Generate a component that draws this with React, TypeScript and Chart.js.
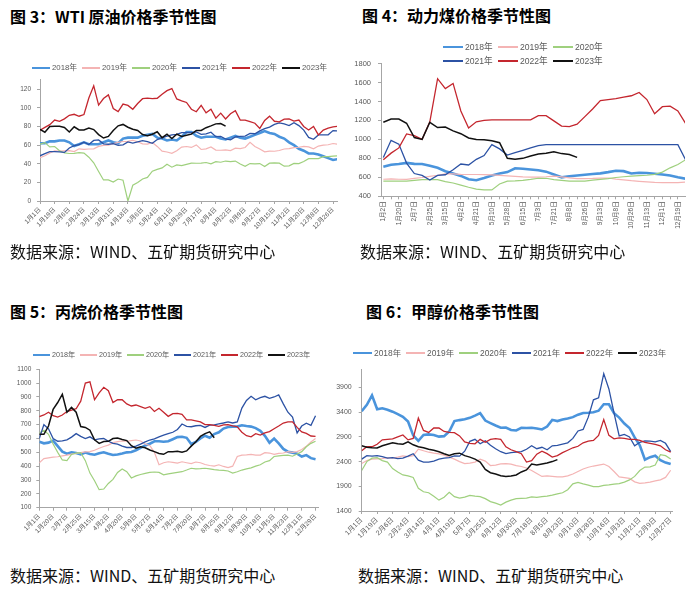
import React, { useEffect, useRef } from 'react';
import { Chart, registerables } from 'chart.js';

Chart.register(...registerables);

const tickFamily = "'Liberation Sans', 'Noto Sans CJK SC', sans-serif";
const cjkFamily = "'Noto Sans CJK SC', 'Liberation Sans', sans-serif";
const axisColor = '#a6a6a6';
const labelColor = '#595959';

// ---- shared series ----
const seriesNames = ['2018年', '2019年', '2020年', '2021年', '2022年', '2023年'];
const seriesColors = ['#4a94dc', '#f4b4b4', '#9fd07e', '#2c52a4', '#c4262e', '#111111'];
const seriesWidths = [2.6, 1.2, 1.2, 1.3, 1.3, 1.5];

// ---- 图3 WTI ----
const wtiXLabels = ['1月1日', '1月19日', '2月6日', '2月24日', '3月13日', '3月31日', '4月18日', '5月6日', '5月24日', '6月11日', '6月29日', '7月17日', '8月4日', '8月22日', '9月9日', '9月27日', '10月15日', '11月2日', '11月20日', '12月8日', '12月26日'];
const wtiYTicks = [0, 20, 40, 60, 80, 100, 120];
const wtiStep = 1 / 3;
const wti2018 = [62, 62, 64, 64, 65, 65, 63, 59, 61, 63, 61, 61, 61, 63, 65, 63, 62, 67, 68, 68, 68, 70, 71, 72, 68, 67, 65, 66, 65, 69, 74, 74, 70, 68, 69, 69, 69, 67, 66, 68, 70, 68, 67, 69, 71, 73, 75, 73, 72, 69, 67, 63, 60, 56, 54, 51, 51, 50, 48, 46, 44, 45];
const wti2019 = [46.5, 48.5, 51.6, 53.8, 53.7, 53.8, 54, 53, 56, 55.5, 55.8, 56, 58.6, 59.8, 59.9, 61.6, 63, 63.9, 64, 65.2, 63.6, 61.4, 61, 62.8, 58.6, 53.5, 52.6, 51.1, 53.9, 57.9, 58.5, 57.5, 60.2, 55.3, 56, 58, 54.7, 54.5, 54.9, 54.2, 56.7, 56.3, 57.4, 62.9, 58.6, 55.9, 52.8, 53.6, 53.4, 54.2, 55.8, 56.2, 57.2, 57.7, 58.6, 58.1, 56, 59, 60, 60.4, 61.7, 61];
const wti2020 = [61, 62.7, 58, 58.5, 54, 51.6, 51, 51.2, 52, 51.4, 47, 41, 31.7, 22.6, 22.6, 20.3, 23.6, 22.4, 0, 16.9, 19.8, 23.6, 25.3, 32, 34, 35.5, 39.5, 36.3, 38.8, 38, 39.3, 40.6, 40.5, 40.6, 41.3, 39.9, 42.2, 41.6, 42.9, 42.3, 42.9, 39.8, 37.3, 40.2, 39.8, 40.2, 37, 40.6, 40.9, 40.6, 37.4, 37.7, 40.3, 40.1, 42.4, 45.5, 45.6, 45.5, 47.6, 47.7, 48.2, 48.5];
const wti2021 = [48.5, 50.8, 53, 52.9, 52.8, 52.2, 56.9, 59.5, 60.5, 63.2, 60.6, 65, 65.6, 61.4, 60.9, 61.5, 59.8, 60.2, 63.4, 62.1, 63.6, 64.9, 63.8, 62, 66, 67.7, 69.6, 70.9, 71.6, 73.3, 73.5, 73.4, 74.1, 71.6, 72, 73.9, 69.1, 69.3, 66.6, 65.6, 68.7, 69.3, 69.7, 72.6, 72.2, 75.3, 77.6, 79.4, 82.3, 83.8, 82.8, 80.9, 84.1, 80.9, 76.1, 68.2, 66.3, 70.9, 70.9, 71.1, 75.6, 75.2];
const wti2022 = [76, 79, 82, 86.9, 85.6, 88.2, 92, 93.1, 91, 92.8, 110.6, 123.7, 103, 110, 113.9, 99.3, 96, 104, 102.6, 98.5, 104.7, 109.8, 110.5, 109.9, 110.3, 114.7, 118.5, 120.7, 109.6, 107.6, 105.8, 98.5, 95.8, 102.6, 94.7, 98.6, 89, 94.3, 88.1, 93.7, 97, 86.9, 86.8, 85.1, 83.5, 78, 86.5, 91.1, 85.6, 85, 87.9, 88.2, 85.8, 86.9, 80, 76.3, 80, 71, 76.1, 78.3, 79.5, 80.3];
const wti2023 = [76.9, 73.8, 79.9, 80.3, 80.2, 79, 74.1, 79.7, 76.3, 76.3, 78.2, 76.7, 71.3, 67.6, 69.3, 75.7, 80.7, 82.2, 79.2, 77.1, 75.7, 71.3, 70, 71.7, 74.3, 68, 71.7, 67.1, 71.8, 69.2, 70.6, 71.8, 75.8, 75.8, 78.7, 80.6, 82.8, 83.2, 80.4];

// ---- 图4 动力煤 ----
const coalXLabels = ['1月2日', '1月20日', '2月7日', '2月25日', '3月15日', '4月2日', '4月21日', '5月10日', '5月28日', '6月15日', '7月3日', '7月21日', '8月8日', '8月26日', '9月13日', '10月8日', '10月26日', '11月13日', '12月1日', '12月19日'];
const coalYTicks = [400, 600, 800, 1000, 1200, 1400, 1600, 1800];
const coalStep = 0.5;
const coal2018 = [712, 732, 740, 752, 742, 740, 722, 700, 665, 640, 615, 580, 570, 592, 620, 640, 655, 695, 690, 682, 675, 660, 630, 600, 612, 620, 627, 635, 642, 655, 670, 665, 640, 648, 645, 637, 630, 620, 600, 585];
const coal2019 = [580, 584, 580, 579, 588, 598, 610, 622, 636, 636, 632, 630, 630, 628, 626, 620, 615, 610, 604, 603, 603, 606, 612, 605, 595, 587, 586, 588, 592, 593, 582, 574, 565, 558, 552, 547, 545, 545, 545, 550];
const coal2020 = [559, 559, 559, 559, 567, 575, 577, 575, 555, 540, 518, 495, 476, 467, 467, 530, 559, 562, 568, 578, 590, 590, 576, 568, 561, 559, 559, 570, 579, 586, 598, 606, 613, 617, 622, 632, 655, 700, 735, 785];
const coal2021 = [808, 990, 950, 750, 640, 620, 572, 620, 627, 680, 740, 730, 790, 830, 945, 900, 835, 860, 885, 910, 935, 945, 945, 945, 945, 945, 945, 945, 945, 945, 945, 945, 945, 945, 945, 945, 945, 945, 945, 785];
const coal2022 = [785, 855, 910, 1058, 1040, 1000, 1185, 1640, 1535, 1590, 1300, 1120, 1185, 1200, 1205, 1205, 1205, 1205, 1205, 1205, 1250, 1250, 1195, 1140, 1135, 1160, 1240, 1320, 1410, 1420, 1430, 1445, 1460, 1495, 1420, 1270, 1345, 1350, 1300, 1167];
const coal2023 = [1180, 1215, 1215, 1170, 1020, 1000, 1180, 1125, 1130, 1090, 1060, 1015, 1000, 995, 985, 965, 800, 790, 800, 825, 845, 855, 870, 850, 840, 810];

// ---- 图5 丙烷 ----
const propXLabels = ['1月1日', '1月20日', '2月7日', '2月25日', '3月15日', '4月2日', '4月20日', '5月9日', '5月27日', '6月14日', '7月2日', '7月20日', '8月7日', '8月25日', '9月12日', '9月30日', '10月18日', '11月5日', '11月23日', '12月11日', '12月29日'];
const propYTicks = [100, 200, 300, 400, 500, 600, 700, 800, 900, 1000, 1100];
const propStep = 1 / 3;
const prop2018 = [577, 565, 570, 585, 545, 505, 490, 500, 495, 486, 498, 488, 483, 493, 500, 490, 481, 485, 492, 500, 503, 515, 532, 550, 562, 580, 580, 577, 580, 595, 610, 613, 605, 560, 575, 600, 620, 605, 632, 645, 672, 683, 686, 686, 696, 690, 686, 675, 655, 620, 570, 600, 565, 525, 505, 498, 490, 470, 480, 458, 450];
const prop2019 = [425, 455, 460, 465, 468, 475, 480, 487, 493, 498, 503, 505, 515, 530, 542, 552, 570, 578, 582, 580, 585, 589, 582, 560, 550, 500, 410, 425, 432, 428, 422, 432, 425, 418, 430, 425, 412, 405, 400, 410, 398, 390, 400, 470, 480, 482, 485, 480, 480, 498, 495, 485, 492, 495, 505, 500, 505, 520, 545, 575, 600];
const prop2020 = [640, 660, 630, 560, 500, 445, 440, 485, 495, 498, 440, 350, 295, 230, 235, 275, 305, 355, 380, 360, 315, 330, 340, 348, 355, 358, 355, 338, 345, 350, 355, 360, 372, 385, 380, 382, 385, 380, 375, 372, 370, 365, 350, 360, 372, 380, 388, 400, 410, 430, 440, 470, 475, 478, 480, 472, 488, 505, 540, 565, 580];
const prop2021 = [600, 700, 670, 600, 580, 583, 590, 610, 635, 615, 600, 612, 590, 598, 600, 580, 565, 560, 545, 535, 535, 545, 560, 575, 589, 598, 612, 625, 635, 645, 665, 705, 688, 685, 692, 695, 680, 697, 698, 705, 712, 720, 712, 720, 820, 875, 905, 880, 895, 905, 890, 900, 915, 850, 790, 755, 640, 690, 710, 695, 765];
const prop2022 = [758, 770, 790, 765, 755, 770, 795, 805, 815, 870, 1000, 1010, 880, 930, 970, 945, 860, 880, 880, 850, 835, 842, 830, 818, 830, 795, 818, 790, 760, 780, 782, 775, 735, 735, 728, 720, 700, 700, 695, 688, 698, 700, 692, 685, 645, 620, 612, 635, 625, 640, 650, 670, 690, 712, 720, 720, 680, 648, 637, 618, 615];
const prop2023 = [630, 630, 690, 810, 860, 920, 790, 825, 790, 686, 680, 660, 590, 565, 578, 580, 600, 603, 593, 585, 548, 530, 540, 533, 517, 505, 492, 486, 505, 505, 508, 500, 510, 545, 577, 615, 635, 648, 605];

// ---- 图6 甲醇 ----
const methXLabels = ['1月1日', '1月19日', '2月6日', '2月24日', '3月14日', '4月1日', '4月19日', '5月7日', '5月25日', '6月12日', '6月30日', '7月18日', '8月5日', '8月23日', '9月10日', '9月28日', '10月16日', '11月3日', '11月21日', '12月9日', '12月27日'];
const methYTicks = [1400, 1900, 2400, 2900, 3400, 3900];
const methStep = 1 / 3;
const meth2018 = [3420, 3550, 3740, 3460, 3480, 3450, 3410, 3360, 3305, 3210, 2930, 2820, 2940, 2950, 2940, 2905, 2915, 3010, 3220, 3240, 3255, 3285, 3330, 3380, 3230, 3180, 3130, 3085, 3090, 3040, 3030, 3085, 3080, 3085, 3070, 3050, 3110, 3245, 3220, 3250, 3270, 3300, 3350, 3385, 3390, 3400, 3430, 3560, 3560, 3380, 3290, 3170, 3080, 2890, 2730, 2440, 2490, 2520, 2430, 2380, 2350];
const meth2019 = [2360, 2420, 2450, 2455, 2460, 2480, 2470, 2490, 2515, 2500, 2520, 2650, 2620, 2590, 2570, 2555, 2530, 2490, 2450, 2400, 2360, 2370, 2390, 2450, 2410, 2320, 2330, 2355, 2360, 2350, 2320, 2300, 2270, 2220, 2160, 2100, 2110, 2100, 2090, 2090, 2110, 2150, 2200, 2250, 2285, 2310, 2330, 2350, 2300, 2200, 2090, 2075, 2060, 1990, 1960, 1970, 1985, 2010, 2030, 2080, 2225];
const meth2020 = [2220, 2400, 2470, 2480, 2420, 2390, 2260, 2190, 2130, 2110, 2080, 1860, 1790, 1770, 1700, 1620, 1680, 1780, 1690, 1660, 1680, 1715, 1700, 1690, 1650, 1590, 1560, 1520, 1580, 1620, 1650, 1655, 1660, 1685, 1675, 1690, 1700, 1720, 1745, 1770, 1830, 1950, 1980, 1950, 1925, 1895, 1895, 1920, 1930, 1945, 1955, 1985, 2030, 2100, 2220, 2290, 2295, 2330, 2540, 2520, 2450];
const meth2021 = [2450, 2520, 2510, 2520, 2500, 2470, 2480, 2460, 2470, 2510, 2560, 2430, 2390, 2390, 2410, 2450, 2470, 2480, 2515, 2510, 2610, 2810, 2850, 2760, 2820, 2730, 2660, 2600, 2560, 2580, 2590, 2600, 2650, 2720, 2660, 2690, 2640, 2720, 2730, 2755, 2780, 2870, 3020, 3050, 3300, 3650, 3690, 4180, 3870, 3380, 2920, 2950, 2900, 2720, 2790, 2820, 2815, 2800, 2830, 2770, 2600];
const meth2022 = [2620, 2700, 2700, 2750, 2840, 2850, 2860, 2900, 2940, 2840, 2870, 3280, 3030, 2990, 3080, 3080, 3010, 2990, 2985, 2920, 2800, 2770, 2760, 2850, 2790, 2850, 2865, 2850, 2700, 2640, 2600, 2560, 2390, 2420, 2550, 2610, 2560, 2490, 2520, 2580, 2630, 2680, 2710, 2780, 2815, 2830, 2930, 3250, 2930, 2860, 2880, 2870, 2850, 2850, 2830, 2790, 2770, 2750, 2720, 2640, 2590];
const meth2023 = [2720, 2690, 2680, 2675, 2720, 2750, 2780, 2760, 2750, 2800, 2740, 2700, 2680, 2650, 2630, 2600, 2560, 2525, 2560, 2570, 2520, 2490, 2450, 2390, 2240, 2175, 2150, 2115, 2100, 2110, 2130, 2190, 2230, 2350, 2330, 2350, 2370, 2400, 2440];

type Spec = {
  box: { x: number; y: number; w: number; h: number };
  padding: { top: number; right: number; bottom: number; left: number };
  yAxisW: number;
  xAxisH: number;
  xMin: number;
  xMax: number;
  xTickPos: number[];
  xLabels: string[];
  xRot: number;
  xFont: number;
  yMin: number;
  yMax: number;
  yTicks: number[];
  yFont: number;
  yPad: number;
  step: number;
  series: number[][];
};

const specs: Spec[] = [
  {
    box: { x: 0, y: 70, w: 345, h: 172 },
    padding: { top: 6.5, right: 8, bottom: 0, left: 0 },
    yAxisW: 40, xAxisH: 41,
    xMin: 0, xMax: 20.27, xTickPos: wtiXLabels.map((_, i) => i), xLabels: wtiXLabels, xRot: 45, xFont: 6.5,
    yMin: 0, yMax: 130, yTicks: wtiYTicks, yFont: 6.5, yPad: 6,
    step: wtiStep, series: [wti2018, wti2019, wti2020, wti2021, wti2022, wti2023],
  },
  {
    box: { x: 345, y: 52, w: 350, h: 185 },
    padding: { top: 8, right: 10, bottom: 0, left: 0 },
    yAxisW: 36, xAxisH: 40.7,
    xMin: -0.15, xMax: 19.46, xTickPos: coalXLabels.flatMap((_, i) => [i, i + 0.5]).filter((v) => v <= 19.46), xLabels: coalXLabels, xRot: 90, xFont: 6.5,
    yMin: 400, yMax: 1800, yTicks: coalYTicks, yFont: 7.5, yPad: 7,
    step: coalStep, series: [coal2018, coal2019, coal2020, coal2021, coal2022, coal2023],
  },
  {
    box: { x: 0, y: 360, w: 330, h: 185 },
    padding: { top: 9.3, right: 11.7, bottom: 0, left: 0 },
    yAxisW: 39.3, xAxisH: 37.3,
    xMin: 0, xMax: 20.2, xTickPos: propXLabels.map((_, i) => i), xLabels: propXLabels, xRot: 45, xFont: 6.5,
    yMin: 100, yMax: 1100, yTicks: propYTicks, yFont: 6.5, yPad: 5,
    step: propStep, series: [prop2018, prop2019, prop2020, prop2021, prop2022, prop2023],
  },
  {
    box: { x: 330, y: 358, w: 360, h: 187 },
    padding: { top: 9.5, right: 17.3, bottom: 0, left: 0 },
    yAxisW: 31.7, xAxisH: 34,
    xMin: 0, xMax: 20.13, xTickPos: methXLabels.map((_, i) => i), xLabels: methXLabels, xRot: 45, xFont: 7,
    yMin: 1400, yMax: 4270, yTicks: methYTicks, yFont: 7, yPad: 7,
    step: methStep, series: [meth2018, meth2019, meth2020, meth2021, meth2022, meth2023],
  },
];

function buildConfig(spec: Spec): any {
  return {
    type: 'line',
    data: {
      datasets: spec.series.map((vals, s) => ({
        label: seriesNames[s],
        data: vals.map((v, i) => ({ x: i * spec.step, y: v })),
        borderColor: seriesColors[s],
        backgroundColor: seriesColors[s],
        borderWidth: seriesWidths[s],
        pointRadius: 0,
        tension: 0,
        fill: false,
        order: seriesNames.length - 1 - s,
      })),
    },
    options: {
      responsive: false,
      animation: false,
      events: [],
      layout: { padding: spec.padding },
      plugins: { legend: { display: false }, tooltip: { enabled: false }, title: { display: false } },
      scales: {
        x: {
          type: 'linear',
          min: spec.xMin,
          max: spec.xMax,
          afterBuildTicks: (axis: any) => {
            axis.ticks = spec.xTickPos.map((v) => ({ value: v }));
          },
          afterFit: (axis: any) => {
            axis.height = spec.xAxisH;
          },
          ticks: {
            autoSkip: false,
            maxRotation: spec.xRot,
            minRotation: spec.xRot,
            padding: 2,
            color: labelColor,
            font: { family: tickFamily, size: spec.xFont },
            callback: (v: number) => (Number.isInteger(v) ? spec.xLabels[v] ?? '' : ''),
          },
          grid: { display: true, drawOnChartArea: false, drawTicks: true, tickLength: 3, color: axisColor },
          border: { display: true, color: axisColor, width: 1 },
        },
        y: {
          type: 'linear',
          min: spec.yMin,
          max: spec.yMax,
          afterBuildTicks: (axis: any) => {
            axis.ticks = spec.yTicks.map((v) => ({ value: v }));
          },
          afterFit: (axis: any) => {
            axis.width = spec.yAxisW;
          },
          ticks: {
            padding: spec.yPad,
            color: labelColor,
            font: { family: tickFamily, size: spec.yFont },
            callback: (v: number) => String(v),
          },
          grid: { display: true, drawOnChartArea: false, drawTicks: true, tickLength: 3, color: axisColor },
          border: { display: true, color: axisColor, width: 1 },
        },
      },
    },
  };
}

function ChartPanel({ spec }: { spec: Spec }) {
  const ref = useRef<HTMLCanvasElement>(null);
  useEffect(() => {
    if (!ref.current) return;
    const chart = new Chart(ref.current, buildConfig(spec));
    return () => chart.destroy();
  }, [spec]);
  return (
    <canvas
      ref={ref}
      width={spec.box.w}
      height={spec.box.h}
      style={{ position: 'absolute', left: spec.box.x, top: spec.box.y, width: spec.box.w, height: spec.box.h }}
    />
  );
}

function Legend({ x, y, pitch, lineW, font, perRow, rowGap }: { x: number; y: number; pitch: number; lineW: number; font: number; perRow: number; rowGap: number }) {
  return (
    <>
      {seriesNames.map((name, i) => {
        const row = Math.floor(i / perRow);
        const col = i % perRow;
        return (
          <div
            key={name}
            style={{
              position: 'absolute',
              left: x + col * pitch,
              top: y + row * rowGap - 6,
              height: 12,
              display: 'flex',
              alignItems: 'center',
              whiteSpace: 'nowrap',
              fontSize: font,
              lineHeight: '12px',
              color: labelColor,
              fontFamily: tickFamily,
            }}
          >
            <span style={{ display: 'inline-block', width: lineW, height: Math.max(1.5, seriesWidths[i]), background: seriesColors[i], marginRight: 2 }} />
            {name}
          </div>
        );
      })}
    </>
  );
}

const titleStyle: React.CSSProperties = {
  position: 'absolute',
  fontFamily: cjkFamily,
  fontWeight: 700,
  fontSize: 16,
  lineHeight: '18px',
  color: '#000',
  whiteSpace: 'nowrap',
};
const sourceStyle: React.CSSProperties = {
  position: 'absolute',
  fontFamily: cjkFamily,
  fontWeight: 400,
  fontSize: 16,
  lineHeight: '18px',
  color: '#111',
  whiteSpace: 'nowrap',
};

export default function App() {
  return (
    <div style={{ position: 'absolute', left: 0, top: 0, width: 700, height: 601, background: '#fff', overflow: 'hidden' }}>
      <div style={{ ...titleStyle, left: 10, top: 7 }}>图 3：WTI 原油价格季节性图</div>
      <div style={{ ...titleStyle, left: 362, top: 6 }}>图 4：动力煤价格季节性图</div>
      <div style={{ ...titleStyle, left: 10, top: 302 }}>图 5：丙烷价格季节性图</div>
      <div style={{ ...titleStyle, left: 366, top: 302 }}>图 6：甲醇价格季节性图</div>

      {specs.map((s, i) => (
        <ChartPanel key={i} spec={s} />
      ))}

      <Legend x={32} y={68} pitch={50} lineW={18} font={7.8} perRow={6} rowGap={0} />
      <Legend x={443} y={47} pitch={55} lineW={20} font={8.6} perRow={3} rowGap={14} />
      <Legend x={33} y={355} pitch={47} lineW={17} font={7.2} perRow={6} rowGap={0} />
      <Legend x={353} y={353} pitch={53} lineW={19} font={8.4} perRow={6} rowGap={0} />

      <div style={{ ...sourceStyle, left: 10, top: 242 }}>数据来源：WIND、五矿期货研究中心</div>
      <div style={{ ...sourceStyle, left: 360, top: 242 }}>数据来源：WIND、五矿期货研究中心</div>
      <div style={{ ...sourceStyle, left: 10, top: 566 }}>数据来源：WIND、五矿期货研究中心</div>
      <div style={{ ...sourceStyle, left: 358, top: 566 }}>数据来源：WIND、五矿期货研究中心</div>
    </div>
  );
}
